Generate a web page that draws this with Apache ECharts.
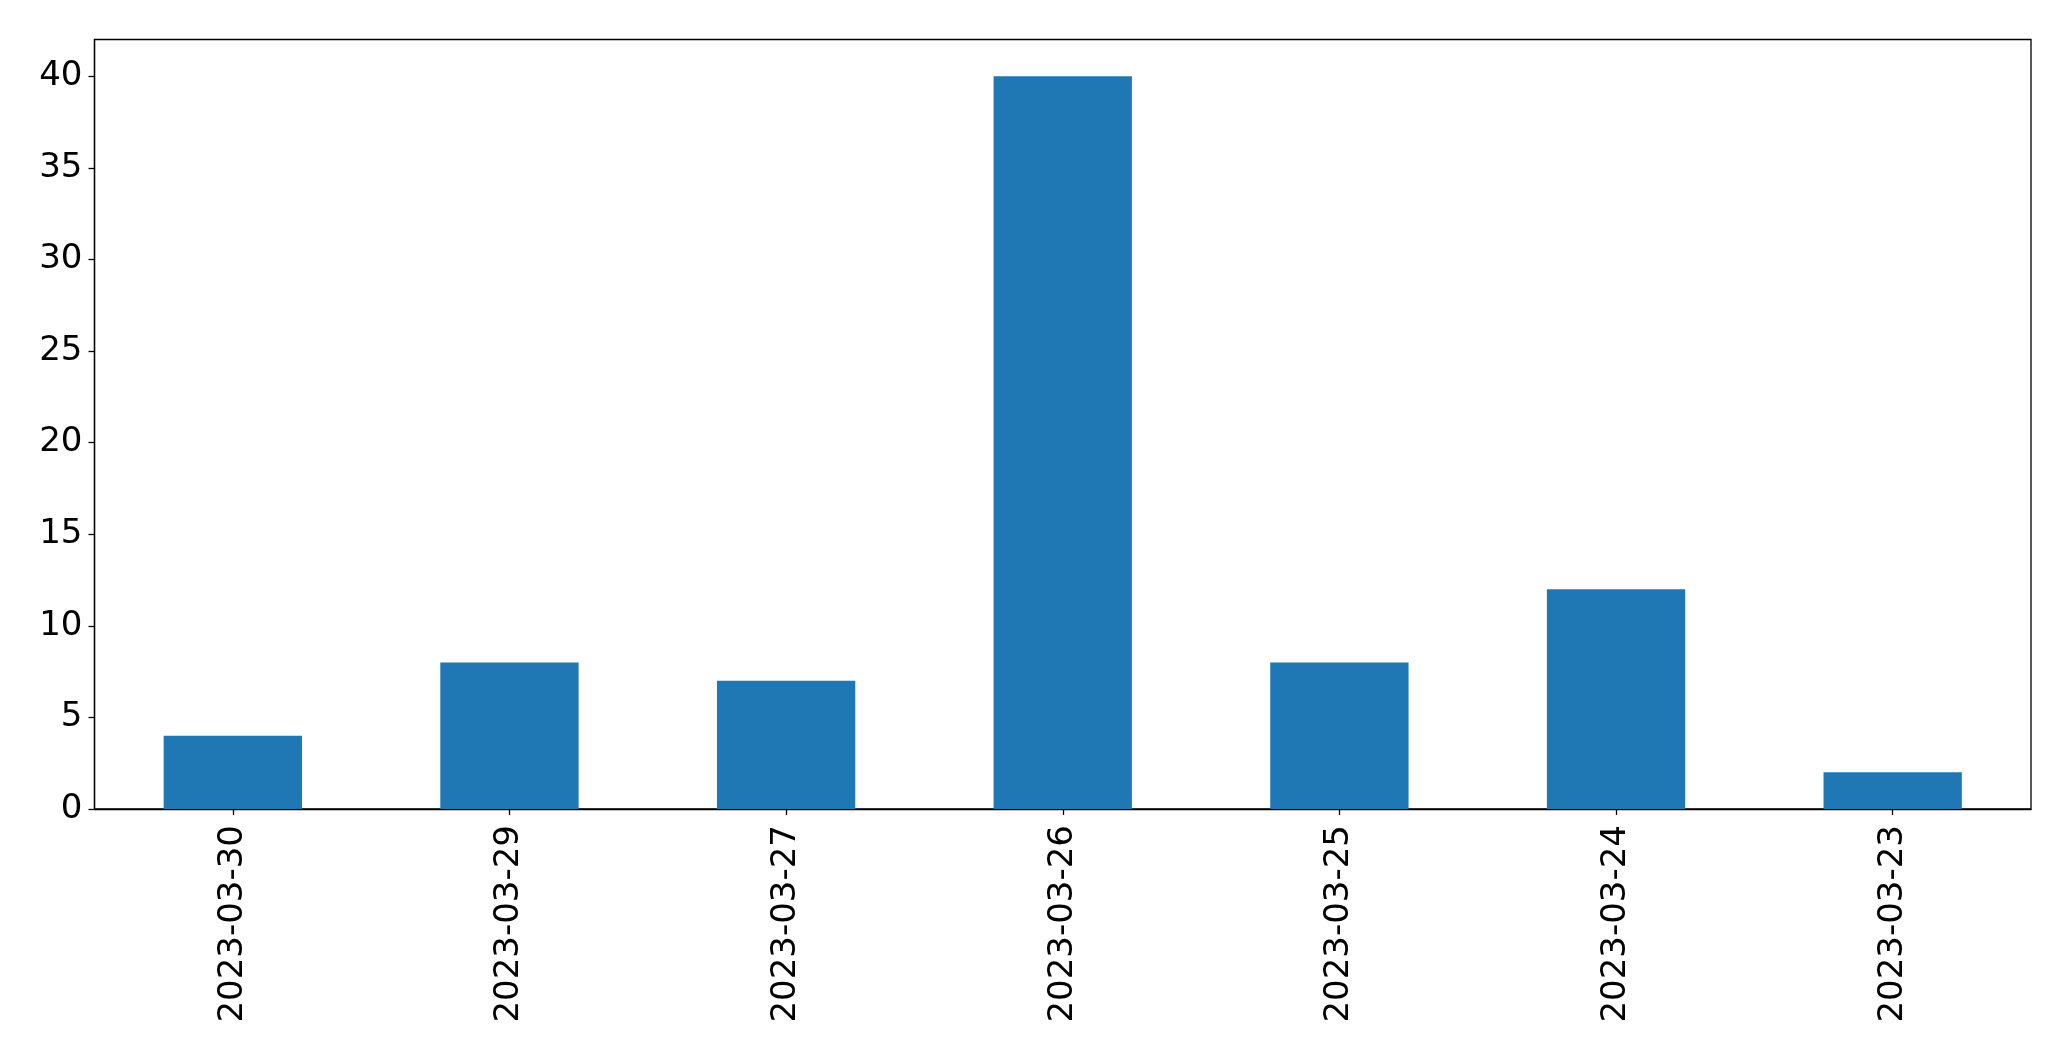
<!DOCTYPE html>
<html>
<head>
<meta charset="utf-8">
<script src="https://cdn.jsdelivr.net/npm/echarts@6/dist/echarts.min.js"></script>
<style>
html,body{margin:0;padding:0;background:#fff;}
#chart{width:2071px;height:1061px;}
</style>
</head>
<body>
<div id="chart"></div>
<script>
const categories = ['2023-03-30','2023-03-29','2023-03-27','2023-03-26','2023-03-25','2023-03-24','2023-03-23'];
const values = [4, 8, 7, 40, 8, 12, 2];
const yTicks = [0, 5, 10, 15, 20, 25, 30, 35, 40];

const chart = echarts.init(document.getElementById('chart'), null, {renderer: 'canvas'});
const font = 'DejaVu Sans';
chart.setOption({
  animation: false,
  backgroundColor: '#ffffff',
  grid: {left: 94.5, right: 40, top: 39.5, bottom: 252, show: true, borderColor: '#000', borderWidth: 1.3, backgroundColor: 'transparent'},
  xAxis: {
    type: 'category',
    data: categories,
    axisLine: {show: true, lineStyle: {color: '#000', width: 1.3}},
    axisTick: {show: true, alignWithLabel: true, length: 6, lineStyle: {color: '#000', width: 1.3}},
    axisLabel: {rotate: 90, margin: 16, color: '#000', fontFamily: font, fontSize: 34, interval: 0},
    splitLine: {show: false}
  },
  yAxis: {
    type: 'value',
    min: 0,
    max: 42,
    interval: 5,
    axisLine: {show: true, lineStyle: {color: '#000', width: 1.3}},
    axisTick: {show: true, length: 6, lineStyle: {color: '#000', width: 1.3}, customValues: yTicks},
    axisLabel: {margin: 12, color: '#000', fontFamily: font, fontSize: 34, customValues: yTicks},
    splitLine: {show: false}
  },
  series: [{
    type: 'bar',
    data: values,
    barWidth: '50%',
    itemStyle: {color: '#1f77b4'}
  }]
});
</script>
</body>
</html>
